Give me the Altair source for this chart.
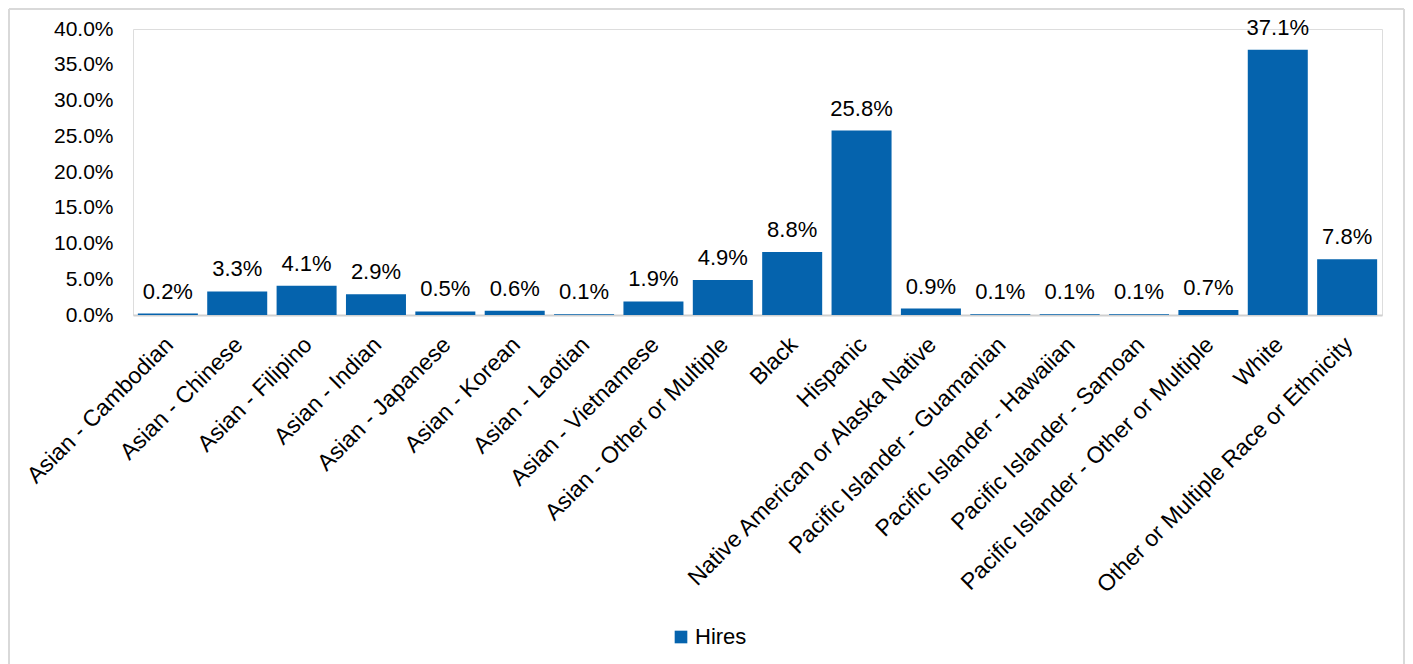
import altair as alt
import pandas as pd

categories = [
    "Asian - Cambodian", "Asian - Chinese", "Asian - Filipino", "Asian - Indian",
    "Asian - Japanese", "Asian - Korean", "Asian - Laotian", "Asian - Vietnamese",
    "Asian - Other or Multiple", "Black", "Hispanic",
    "Native American or Alaska Native", "Pacific Islander - Guamanian",
    "Pacific Islander - Hawaiian", "Pacific Islander - Samoan",
    "Pacific Islander - Other or Multiple", "White",
    "Other or Multiple Race or Ethnicity",
]
hires_pct = [0.2, 3.3, 4.1, 2.9, 0.5, 0.6, 0.1, 1.9, 4.9, 8.8, 25.8, 0.9, 0.1, 0.1, 0.1, 0.7, 37.1, 7.8]
series_name = "Hires"
y_ticks = [0.0, 0.05, 0.10, 0.15, 0.20, 0.25, 0.30, 0.35, 0.40]

df = pd.DataFrame({
    "category": categories,
    "value": [v / 100 for v in hires_pct],
    "series": [series_name] * len(categories),
})

FONT = "Liberation Sans"
W, H = 1249, 286

x_enc = alt.X("category:N", sort=categories,
              scale=alt.Scale(paddingInner=0.135, paddingOuter=0.07),
              axis=alt.Axis(title=None, labelAngle=-45, labelAlign="right", labelBaseline="top",
                            labelFontSize=23, labelFont=FONT, labelColor="#000000",
                            labelPadding=18, labelOffset=-6, ticks=False, domainColor="#d0d0d0",
                            domainWidth=2, labelLimit=0, labelOverlap=False))
y_enc = alt.Y("value:Q", scale=alt.Scale(domain=[0, 0.4], nice=False),
              axis=alt.Axis(title=None, format=".1%", values=y_ticks, grid=False,
                            domain=False, ticks=False, labelPadding=20, labelOverlap=False,
                            labelFontSize=21, labelFont=FONT, labelColor="#000000"))

base = alt.Chart(df).encode(x=x_enc, y=y_enc)

bars = base.mark_bar().encode(
    color=alt.Color("series:N", scale=alt.Scale(range=["#0563AD"]),
                    legend=alt.Legend(title=None, orient="none", legendX=537, legendY=597,
                                      symbolType="square", symbolSize=160,
                                      symbolStrokeWidth=0, labelFontSize=22,
                                      labelFont=FONT, labelColor="#000000",
                                      labelOffset=3)),
)

labels = base.mark_text(baseline="alphabetic", dy=-15, fontSize=22, font=FONT,
                        color="#000000").encode(
    text=alt.Text("value:Q", format=".1%"),
)

# outer chart frame drawn as four rules
frame_df = pd.DataFrame({"k": [0]})
frame_color = "#d9d9d9"
frame_top = alt.Chart(frame_df).mark_rule(color=frame_color, strokeWidth=2).encode(
    x=alt.value(-124), x2=alt.value(W + 22), y=alt.value(-20))
frame_left = alt.Chart(frame_df).mark_rule(color=frame_color, strokeWidth=2).encode(
    x=alt.value(-124), y=alt.value(-20), y2=alt.value(H + 360))
frame_right = alt.Chart(frame_df).mark_rule(color=frame_color, strokeWidth=2).encode(
    x=alt.value(W + 22), y=alt.value(-20), y2=alt.value(H + 360))

chart = alt.layer(frame_top, frame_left, frame_right, bars, labels).properties(
    width=W, height=H,
    autosize=alt.AutoSizeParams(type="none"),
    padding={"left": 125, "top": 21, "right": 23, "bottom": 349},
).configure_view(stroke=None, strokeWidth=0).configure_axis(grid=False).configure(background="white")

chart.save("out.html", embed_options={"renderer": "svg", "actions": False})
